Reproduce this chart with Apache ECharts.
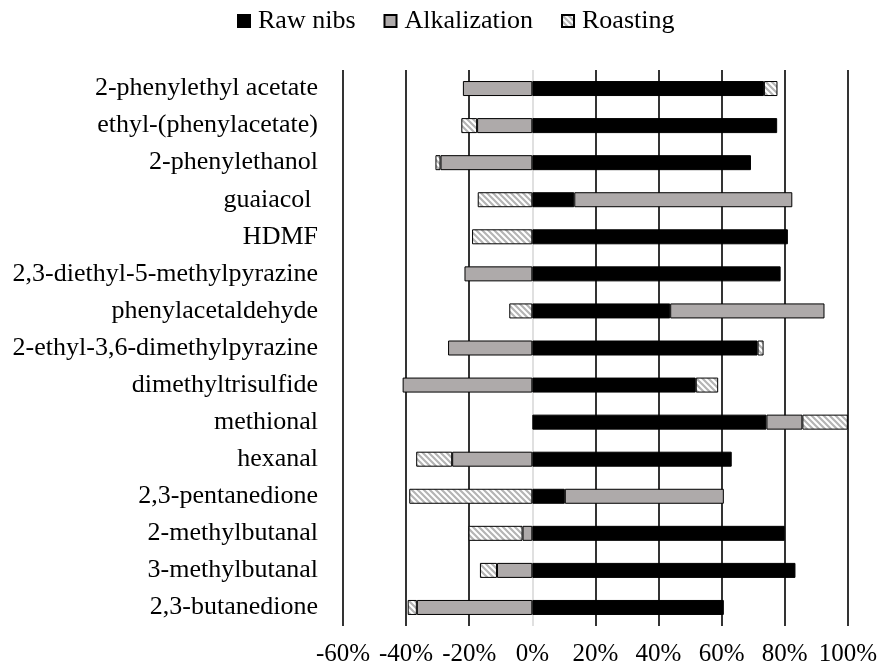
<!DOCTYPE html>
<html>
<head>
<meta charset="utf-8">
<script src="https://cdn.jsdelivr.net/npm/echarts@6/dist/echarts.min.js"></script>
<style>
html,body{margin:0;padding:0;background:#fff;}
#chart{width:880px;height:667px;}
</style>
</head>
<body>
<div id="chart"></div>
<script>
const categories = ['2-phenylethyl acetate','ethyl-(phenylacetate)','2-phenylethanol','guaiacol ','HDMF','2,3-diethyl-5-methylpyrazine','phenylacetaldehyde','2-ethyl-3,6-dimethylpyrazine','dimethyltrisulfide','methional','hexanal','2,3-pentanedione','2-methylbutanal','3-methylbutanal','2,3-butanedione'];
const rawNibs = [73.4, 77.6, 69.3, 13.3, 81.0, 78.7, 43.7, 71.4, 51.8, 74.2, 63.2, 10.3, 80.0, 83.4, 60.7];
const alkalization = [-22.0, -17.5, -29.1, 69.1, null, -21.5, 48.9, -26.7, -41.1, 11.4, -25.4, 50.4, -3.1, -11.2, -36.6];
const roasting = [4.3, -5.0, -1.6, -17.3, -19.1, null, -7.3, 1.9, 7.1, 14.4, -11.4, -39.0, -17.1, -5.4, -2.9];
const xTicks = {min: -60, max: 100, interval: 20};

const FONT = "'Liberation Serif','Times New Roman',serif";

function hatch() {
  const s = 6;
  const c = document.createElement('canvas');
  c.width = s; c.height = s;
  const g = c.getContext('2d');
  g.fillStyle = '#ffffff';
  g.fillRect(0, 0, s, s);
  g.strokeStyle = '#b4b4b4';
  g.lineWidth = 2.2;
  g.beginPath();
  for (let k = -1; k <= 1; k++) {
    g.moveTo(k * s - 1, -1);
    g.lineTo(k * s + s + 1, s + 1);
  }
  g.stroke();
  return c;
}

const chart = echarts.init(document.getElementById('chart'), null, {renderer: 'canvas'});
const gridColors = [];
for (let v = xTicks.min; v <= xTicks.max; v += xTicks.interval) gridColors.push(v === 0 ? '#d9d9d9' : '#000000');

const barBase = {type: 'bar', stack: 'total', barWidth: 15, animation: false};

chart.setOption({
  animation: false,
  legend: {
    top: 3,
    left: 232,
    icon: 'rect',
    itemWidth: 12,
    itemHeight: 12,
    itemGap: 28,
    textStyle: {fontFamily: FONT, fontSize: 26, color: '#000', padding: [0, 0, 0, 3]},
    data: ['Raw nibs', 'Alkalization', 'Roasting']
  },
  grid: {left: 343, right: 31, top: 70, bottom: 41},
  xAxis: {
    type: 'value',
    min: xTicks.min, max: xTicks.max, interval: xTicks.interval,
    axisLine: {show: false},
    axisTick: {show: false},
    axisLabel: {formatter: '{value}%', fontFamily: FONT, fontSize: 25, color: '#000', margin: 16},
    splitLine: {show: true, lineStyle: {color: gridColors, width: 1.6}}
  },
  yAxis: {
    type: 'category',
    inverse: true,
    data: categories,
    axisLine: {show: false},
    axisTick: {show: false},
    axisLabel: {fontFamily: FONT, fontSize: 26, color: '#000', margin: 25}
  },
  series: [
    Object.assign({}, barBase, {name: 'Raw nibs', data: rawNibs, itemStyle: {color: '#000000', borderColor: '#000', borderWidth: 1}}),
    Object.assign({}, barBase, {name: 'Alkalization', data: alkalization, itemStyle: {color: '#aeaaaa', borderColor: '#000', borderWidth: 1}}),
    Object.assign({}, barBase, {name: 'Roasting', data: roasting, itemStyle: {color: {image: hatch(), repeat: 'repeat'}, borderColor: '#000', borderWidth: 1}})
  ]
});
</script>
</body>
</html>
